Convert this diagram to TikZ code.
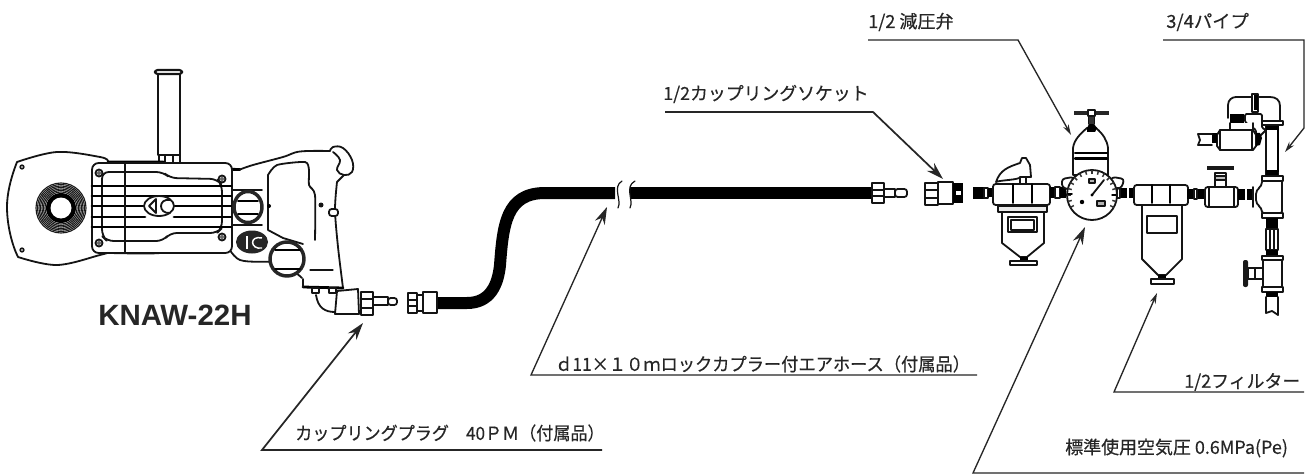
\documentclass[tikz,border=0pt]{standalone}
\usepackage{fontspec}
\usepackage{graphicx}
\setmainfont{Liberation Sans}
\newfontfamily\jpfont[FakeBold=0.35]{Noto Sans CJK JP}
\usetikzlibrary{arrows.meta}
\definecolor{ink}{gray}{0.08}
\definecolor{leader}{gray}{0.15}
\tikzset{
  thinl/.style={draw=ink,line width=0.9pt,line cap=round,line join=round},
  medl/.style={draw=ink,line width=1.35pt,line cap=round,line join=round},
  thick2/.style={draw=black,line width=2.1pt,line cap=round,line join=round},
  leadline/.style={draw=leader,line width=1pt},
  bigtip/.style={-{Stealth[length=13pt,width=8pt]}},
  smalltip/.style={-{Stealth[length=8pt,width=4.5pt]}},
  lbl/.style={anchor=west,inner sep=0pt,text=black!85,font=\jpfont\fontsize{13.5pt}{15pt}\selectfont},
}
\newcommand{\rc}[4]{\draw[medl,fill=white] (#1,#2) rectangle (#3,#4);}
\newcommand{\bk}[4]{\fill[black] (#1,#2) rectangle (#3,#4);}
\begin{document}
\begin{tikzpicture}[x=0.75pt,y=-0.75pt]
\useasboundingbox (0,0) rectangle (1308,474);
\fill[white] (0,0) rectangle (1308,474);

%%% TOOL
% handle
\draw[medl,line width=1.7pt,fill=white] (158,74) -- (158,155) -- (180,155) -- (180,74);
\draw[medl,line width=1.6pt,fill=white,rounded corners=2pt] (155,70) rectangle (182,74);
\draw[medl] (159,155) rectangle (180,163); \draw[thinl] (165,155) -- (165,163) -- (173,163) -- (173,155);
% outline
\draw[medl] plot[smooth,tension=.6] coordinates {(108,161)(100,157)(57,152)(17,162)};
\draw[medl] (17,162) .. controls (10,180) and (7,195) .. (7,207) .. controls (7,225) and (12,245) .. (18,257);
\draw[medl] plot[smooth,tension=.6] coordinates {(18,257)(57,265)(100,255)(110,252)};
\draw[thick2] (108,162) -- (163,162) -- (170,168) -- (240,169.5);
\draw[medl] plot[smooth,tension=.6] coordinates {(240,169.5)(253,165)(283,157)(300,151.5)(330,151)};
\draw[medl,fill=white] plot[smooth,tension=.7] coordinates {(330,151)(333,147)(343,148)(352,160)(352,172)(344,175)(337,170)(340,160)(333,152)};
\draw[medl] plot[smooth,tension=.5] coordinates {(337,182)(335,210)(338,247)(343,288)};
\draw[medl] (344,175) -- (337,182);
\draw[medl] plot[smooth,tension=.5] coordinates {(110,253)(160,253)(170,245)(190,243)(220,240)(240,260)(280,263)(302,278)};
% grip hole
\draw[medl] plot[smooth,tension=.4] coordinates {(268,175)(277,165)(305,162)(309,170)(309,185)(315,195)(315,240)};
\draw[medl] (268,175) -- (268,230) -- (283,238) -- (303,244);
\draw[thinl] (310,270) -- (333,270);
\fill[ink] (321,205) circle (2.5);
\draw[medl,fill=white,rounded corners=2pt] (329,209) rectangle (338,216);
% plate
\draw[medl,fill=white,rounded corners=5pt] (92,163) rectangle (232,253);
\draw[medl,rounded corners=5pt] (102,172) -- (163,172) -- (170,178) -- (217,179) -- (222,185) -- (222,228) -- (217,233) -- (170,233) -- (163,241) -- (107,241) -- (102,236) -- cycle;
\foreach \yy in {186,196,227}{\draw[thick2] (92,\yy) -- (231,\yy);}
\foreach \yy in {206,217}{\draw[thick2] (92,\yy) -- (145,\yy); \draw[thick2] (174,\yy) -- (231,\yy);}
\draw[thinl] (125,163) -- (125,253);
\foreach \p in {(99,173),(222,179),(99,243),(222,237)}{\draw[medl,fill=white] \p circle (3.5); \fill[black!60] \p circle (2);}
\foreach \p in {(22,167),(22,250)}{\draw[thinl,fill=black!40] \p circle (2);}
% logo
\draw[medl,fill=white] (159,206) ellipse (15 and 10);
\draw[medl] (149,206) -- (156,199) -- (156,213) -- cycle;
\draw[medl] (170,200) .. controls (158,198) and (158,214) .. (170,213);
% drive socket
\foreach \r in {16,17.5,...,25.5}{\draw[black!90,line width=0.85pt] (61,208) circle (\r);}
\fill[black] (61,208) circle (15);
\fill[white] (61,208) circle (10.5);
% connectors to housing
\draw[medl] (232,190) -- (262,190); \draw[medl] (232,225) -- (262,225);
% air windows
\draw[line width=2.6pt,draw=black!85,fill=white] (248,207) ellipse (14 and 15.5);
\draw[thick2,line width=1.4pt] (238,201) -- (258,201); \draw[thick2,line width=1.4pt] (238,214) -- (258,214);
\fill[black] (269,206) circle (2);
\draw[line width=2.6pt,draw=black!85,fill=white] (287,259) ellipse (17 and 17);
\draw[thick2,line width=1.2pt] (275,250) -- (300,250); \draw[thick2,line width=1.2pt] (275,269) -- (300,269);
\fill[black!85] (252,242) ellipse (16 and 11.5);
\draw[white,line width=1.1pt] (247,236) -- (247,249);
\draw[white,line width=1.1pt] (262,238) .. controls (249,235) and (250,250) .. (262,248);
% base & fitting
\draw[thick2] (303,287) -- (343,288);
\draw[medl] (303,279) -- (303,287);
\foreach \xx in {312,329}{\draw[medl,fill=white] (\xx,288) rectangle ++(7,5);}
\draw[medl] (316,295) .. controls (318,308) and (325,312) .. (335,312);
\draw[medl,fill=white] (337,291) -- (358,289) -- (359,314) -- (335,314) -- cycle;
\rc{361}{292}{373}{315}
\draw[thinl] (361,299) -- (373,299); \draw[thinl] (361,308) -- (373,308);
\rc{373}{297}{388}{305}
\draw[medl,fill=white,rounded corners=2pt] (388,298) rectangle (397,305);

%%% HOSE
\draw[line width=9pt,draw=black,line cap=butt] (437,303) -- (467,303) .. controls (490,303) and (498,285) .. (500,265) .. controls (503,225) and (506,193) .. (545,193) -- (615,193);
\draw[line width=9pt,draw=black,line cap=butt] (630,193) -- (872,193);
\draw[thinl] (622,181) .. controls (612,187) and (622,200) .. (618,208);
\draw[thinl] (635,181) .. controls (624,187) and (634,200) .. (630,208);
\rc{408}{293}{417}{313}\draw[thinl] (408,300) -- (417,300); \draw[thinl] (408,306) -- (417,306);
\rc{417}{295}{423}{311}
\rc{423}{292}{437}{313}
\rc{872}{183}{884}{203}\draw[thinl] (872,190) -- (884,190); \draw[thinl] (872,196) -- (884,196);
\rc{884}{189}{895}{197}
\draw[medl,fill=white,rounded corners=2pt] (895,189) rectangle (907,197);

%%% SOCKET
\rc{925}{183}{938}{205}\draw[thinl] (925,190) -- (938,190); \draw[thinl] (925,198) -- (938,198);
\rc{938}{182}{953}{204}
\bk{953}{183}{963}{203}\fill[white] (956,191) rectangle (961,195);

%%% FILTER 1
\draw[medl,fill=white] (1020,184) -- (1020,177) -- (1026,177) -- (1026,184);
\draw[medl,fill=white] (996,182) .. controls (1000,170) and (1008,167) .. (1020,163) -- (1022,158) -- (1026,158) -- (1030,165) -- (1031,177) -- (1026,177) -- (1020,177) .. controls (1020,180) and (1000,180) .. (996,182);
\bk{973}{187}{984}{199}
\rc{984}{188}{988}{198}
\bk{988}{188}{993}{197}
\draw[medl,fill=white,rounded corners=2pt] (993,184) rectangle (1050,205);
\draw[thick2,line width=1.2pt] (1013,184) -- (1013,203);\draw[thick2,line width=1.2pt] (1032,184) -- (1032,203);
\draw[medl,fill=white] (1002,212) -- (1002,243) -- (1020,257) -- (1027,257) -- (1044,243) -- (1044,212);
\draw[medl,fill=black!20,fill opacity=.4] (998,206) rectangle (1047,212);
\draw[medl] (1008,217) rectangle (1037,232);
\draw[thinl] (1011,220) rectangle (1034,230);
\bk{1020}{257}{1028}{261}
\rc{1010}{261}{1037}{265}

%%% REGULATOR
\bk{1050}{187}{1055}{198}\rc{1055}{187}{1060}{198}\bk{1060}{187}{1066}{198}
\draw[medl,fill=white] (1073,175) -- (1073,148) .. controls (1074,140) and (1080,134) .. (1087,128) -- (1096,128) .. controls (1103,134) and (1107,140) .. (1108,148) -- (1108,175) -- cycle;
\draw[thick2,line width=1.6pt] (1075,153) -- (1107,153); \draw[thick2,line width=1.6pt] (1075,158.5) -- (1107,158.5);
\fill[black] (1087,128) -- (1089,124) -- (1094,124) -- (1097,128) -- (1095,132) -- (1087,132)--cycle;
\draw[medl] (1089,113) -- (1089,124); \draw[medl] (1094,113) -- (1094,124);
\fill[black!80] (1089,117) rectangle (1094,124);
\draw[line width=3pt,draw=black!85] (1074,113) -- (1109,113);
\draw[medl,fill=white] (1088,110) rectangle (1095,116);
% gauge
\draw[medl,fill=white,rounded corners=2pt] (1062,187) -- (1062,179) -- (1073,177) -- (1078,183) -- (1070,190) -- cycle;
\draw[medl,fill=white,rounded corners=2pt] (1122,187) -- (1124,179) -- (1113,177) -- (1107,183) -- (1115,190) -- cycle;
\draw[medl,fill=white] (1092,195) circle (25);
\foreach \a in {-30,-15,...,210}{\draw[line width=1.1pt,draw=black!80] ({1092+21*cos(\a)},{195-21*sin(\a)}) -- ({1092+25*cos(\a)},{195-25*sin(\a)});}
\draw[thick2,line width=1.1pt] (1068,194) -- (1072,194); \draw[thick2,line width=1.1pt] (1112,195) -- (1116,195);
\draw[medl] (1092,195) -- (1104,180);\fill[black] (1092,195) circle (1.7);
\draw[thinl,fill=black!30] (1089,179) rectangle (1095,183);
\draw[thinl,fill=black!30] (1097,201) rectangle (1105,206);
\fill[black] (1082,202) circle (2.2);

%%% FILTER 2
\bk{1120}{188}{1127}{198}\bk{1129}{188}{1135}{198}\draw[thinl] (1117,188) rectangle (1120,198);
\draw[medl,fill=white] (1142,205) -- (1142,259) -- (1158,275) -- (1166,275) -- (1182,259) -- (1182,205);
\draw[medl,fill=white,rounded corners=2pt] (1134,185) rectangle (1188,205);
\draw[thick2,line width=1.2pt] (1152,185) -- (1152,203);\draw[thick2,line width=1.2pt] (1170,185) -- (1170,203);
\draw[medl] (1147,216) rectangle (1177,233);
\bk{1158}{275}{1166}{279}
\rc{1151}{279}{1174}{284}

%%% VALVE
\bk{1187}{189}{1194}{199}\bk{1197}{189}{1204}{199}\draw[thinl] (1194,189) rectangle (1197,199);
\draw[medl,fill=white] (1215,173) rectangle (1226,187);
\draw[thinl,fill=black!25] (1215,176) rectangle (1226,180);
\draw[line width=3.5pt,draw=black!90] (1207,168) -- (1234,168);
\draw[medl,fill=white,rounded corners=2pt] (1205,187) rectangle (1238,207);
\draw[thinl] (1209,187) -- (1209,207); \draw[thinl] (1234,187) -- (1234,207);
\bk{1238}{189}{1245}{200}\bk{1247}{189}{1253}{200}

%%% RIGHT PIPING
\draw[medl,fill=white] (1266,126) rectangle (1278,176);
\draw[line width=1.6pt,draw=black] (1278,126) -- (1278,172);
\bk{1266}{123}{1278}{130}\bk{1266}{170}{1278}{176}
\draw[medl,fill=white] (1228,118) -- (1228,105) .. controls (1228,100) and (1232,97) .. (1236,97) -- (1270,97) .. controls (1276,97) and (1280,100) .. (1280,106) -- (1280,121);
\draw[medl,fill=white] (1262,121) rectangle (1283,125);
\draw[medl,fill=white] (1252,94) rectangle (1258,112);\bk{1254}{95}{1258}{110}
% tee
\draw[medl,fill=white,rounded corners=3pt] (1256,190) -- (1262,186) -- (1262,178) -- (1282,178) -- (1282,215) -- (1262,215) -- (1262,208) -- (1256,204) -- cycle;
\draw[medl,fill=white] (1262,176) rectangle (1283,181);
\draw[medl,fill=white] (1262,213) rectangle (1283,218);
\draw[medl] (1253,187) -- (1253,207);
% lower pipe
\bk{1266}{218}{1278}{229}
\rc{1266}{229}{1278}{250}\draw[thinl] (1270,229) -- (1270,250); \draw[thinl] (1274,229) -- (1274,250);
\bk{1266}{250}{1278}{256}
\draw[medl,fill=white] (1263,260) rectangle (1282,287);
\draw[medl,fill=white] (1262,256) rectangle (1283,260);
\draw[medl,fill=white] (1262,287) rectangle (1283,292);
\bk{1266}{292}{1278}{297}
\draw[medl] (1266,297) -- (1266,313) -- (1272,311) -- (1278,315) -- (1278,297);
\draw[medl,fill=white] (1248,268) rectangle (1263,279);\draw[thinl] (1255,268) -- (1255,279);
\fill[black!90,rounded corners=1.5pt] (1243,260) rectangle (1248,287);
% upper valve
\draw[medl,fill=white,rounded corners=1pt] (1245,114) -- (1262,114) -- (1262,128) -- (1266,130) -- (1256,140) -- (1256,130) -- (1245,122) -- cycle;
\bk{1230}{114}{1244}{123}
\draw[medl,fill=white] (1230,123) -- (1230,130) -- (1253,130) -- (1253,123);
\draw[medl,fill=white] (1217,135) -- (1220,130) -- (1253,130) -- (1256,135) -- (1256,146) -- (1253,150) -- (1220,150) -- (1217,146) -- cycle;
\draw[medl] (1220,130) -- (1220,150);\draw[medl] (1252,130) -- (1252,150);
\bk{1212}{133}{1217}{143}
\draw[medl] (1212,134) -- (1198,134) -- (1200,140) -- (1198,145) -- (1212,145);
\fill[black] (1256,133) -- (1260,133) -- (1262,138) -- (1260,145) -- (1256,146) -- cycle;

%%% LEADERS
\coordinate (r0) at (868,40); \coordinate (r1) at (1018,40); \coordinate (r2) at (1071,135);
\draw[leadline,smalltip] (r0) -- (r1) -- (r2);
\coordinate (p0) at (1163,40); \coordinate (p1) at (1304,40); \coordinate (p2) at (1304,128); \coordinate (p3) at (1285,152);
\draw[leadline,smalltip] (p0) -- (p1) -- (p2) -- (p3);
\coordinate (s0) at (665,112); \coordinate (s1) at (873,112); \coordinate (s2) at (943,179);
\draw[leadline,line width=1.3pt,bigtip] (s0) -- (s1) -- (s2);
\coordinate (h0) at (977,375); \coordinate (h1) at (531,375); \coordinate (h2) at (607,207);
\draw[leadline,bigtip] (h0) -- (h1) -- (h2);
\coordinate (c0) at (602,450); \coordinate (c1) at (262,450); \coordinate (c2) at (363,323);
\draw[leadline,line width=1.3pt,bigtip] (c0) -- (c1) -- (c2);
\coordinate (f0) at (1304,392); \coordinate (f1) at (1114,392); \coordinate (f2) at (1157,293);
\draw[leadline,smalltip] (f0) -- (f1) -- (f2);
\coordinate (g0) at (1304,473); \coordinate (g1) at (973,473); \coordinate (g2) at (1085,227);
\draw[leadline,bigtip] (g0) -- (g1) -- (g2);

%%% LABELS
\node[lbl] (t1) at (868,22) {\resizebox{64pt}{\height}{1/2 減圧弁}};
\node[lbl] (t2) at (1166,22) {\resizebox{62pt}{\height}{3/4パイプ}};
\node[lbl] (t3) at (663,94) {\resizebox{154pt}{\height}{1/2カップリングソケット}};
\node[lbl] (t4) at (555,364) {\resizebox{311pt}{\height}{ｄ11×１０ｍロックカプラー付エアホース（付属品）}};
\node[lbl] (t5) at (295,433) {\resizebox{232pt}{\height}{カップリングプラグ　40ＰＭ（付属品）}};
\node[lbl] (t6) at (1184,382) {\resizebox{87pt}{\height}{1/2フィルター}};
\node[lbl] (t7) at (1065,448) {\resizebox{167pt}{\height}{標準使用空気圧 0.6MPa(Pe)}};
\node[anchor=west,inner sep=0pt,text=black!85,font=\bfseries\fontsize{22pt}{24pt}\selectfont] (t8) at (98,315) {\resizebox{115pt}{\height}{KNAW-22H}};
\end{tikzpicture}
\end{document}
